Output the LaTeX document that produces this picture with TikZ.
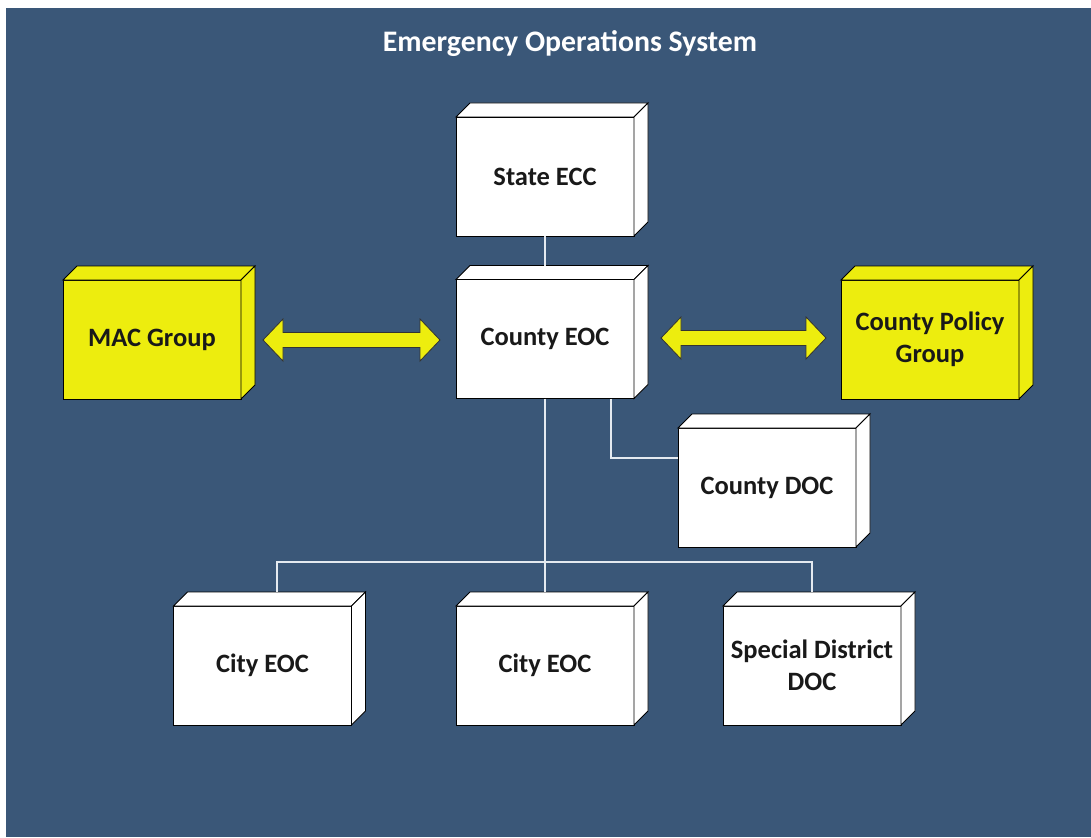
\documentclass[tikz,border=0pt]{standalone}
\usepackage{fontspec}
\setmainfont{Carlito}
\usetikzlibrary{calc}
\definecolor{bgblue}{HTML}{3A5778}
\definecolor{boxyellow}{HTML}{EDED0E}
\definecolor{linkline}{HTML}{E4EAF0}
\newcommand\cubefaces[2]{%
  \draw[cubeline, fill=#2] (#1.north west) -- ([shift={(14pt,14pt)}]#1.north west) -- ([shift={(14pt,14pt)}]#1.north east) -- (#1.north east) -- cycle;
  \draw[cubeline, fill=#2] (#1.north east) -- ([shift={(14pt,14pt)}]#1.north east) -- ([shift={(14pt,14pt)}]#1.south east) -- (#1.south east) -- cycle;
}
\newcommand\dblarrow[2]{%
  \draw[yarrow] (#1) -- ($(#1)+(20pt,21pt)$) -- ($(#1)+(20pt,7.5pt)$) -- ($(#2)+(-20pt,7.5pt)$) -- ($(#2)+(-20pt,21pt)$) -- (#2) -- ($(#2)+(-20pt,-21pt)$) -- ($(#2)+(-20pt,-7.5pt)$) -- ($(#1)+(20pt,-7.5pt)$) -- ($(#1)+(20pt,-21pt)$) -- cycle;
}
\tikzset{
  cubeline/.style={draw=black, line width=0.9pt, line join=miter},
  cube/.style={cubeline, fill=white, minimum width=178pt, minimum height=119pt, inner sep=2pt, outer sep=0pt, align=center, font=\fontsize{26.5pt}{32pt}\selectfont\bfseries, text=black!90},
  ycube/.style={cube, fill=boxyellow},
  link/.style={draw=linkline, line width=1.3pt},
  yarrow/.style={fill=boxyellow, draw=black!80, line width=0.8pt, line join=miter},
}
\begin{document}
\begin{tikzpicture}[x=1pt, y=-1pt]
\useasboundingbox (0,0) rectangle (1091,837);
\fill[white] (0,0) rectangle (1091,837);
\fill[bgblue] (6,8) rectangle (1091,837);

\node[text=white, font=\fontsize{29.8pt}{34pt}\selectfont\bfseries] (title) at (570,44) {Emergency Operations System};

\node[cube] (state) at (545,176.5) {State ECC};
\node[cube] (county) at (545,339) {County EOC};
\node[ycube] (mac) at (152,339.5) {MAC Group};
\node[ycube] (cpg) at (930,339.5) {County Policy\\Group};
\node[cube] (doc) at (767,487.5) {County DOC};
\node[cube] (city1) at (262.5,665.5) {City EOC};
\node[cube] (city2) at (545,665.5) {City EOC};
\node[cube] (sdd) at (812,665.5) {Special District\\DOC};

\foreach \n in {state,county,doc,city1,city2,sdd} {\cubefaces{\n}{white}}
\foreach \n in {mac,cpg} {\cubefaces{\n}{boxyellow}}

% connectors
\draw[link] (state.south) -- ([yshift=14pt]county.north);
\coordinate (busy) at (545,562);
\draw[link] (county.south) -- ([yshift=14pt]city2.north);
\draw[link] ([shift={(14.5pt,14pt)}]city1.north) |- (busy) -| ([yshift=14pt]sdd.north);
\draw[link] ([xshift=66pt]county.south) |- ([yshift=29.5pt]doc.west);

% double arrows
\coordinate (a1) at ([shift={(22pt,-0.5pt)}]mac.east);
\coordinate (a2) at ([shift={(-16pt,-1pt)}]county.west);
\dblarrow{a1}{a2}
\coordinate (b1) at ([shift={(27pt,1pt)}]county.east);
\coordinate (b2) at ([shift={(-15pt,1.5pt)}]cpg.west);
\dblarrow{b1}{b2}
\end{tikzpicture}
\end{document}
